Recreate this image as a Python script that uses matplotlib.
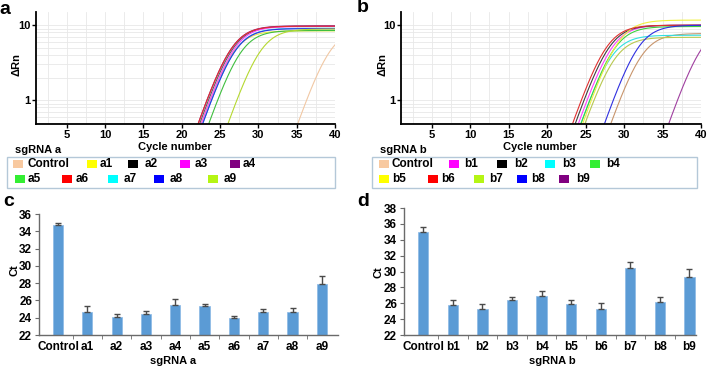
import numpy as np
import matplotlib.pyplot as plt
from matplotlib import ticker
from matplotlib.patches import Rectangle

plt.rcParams['font.family'] = ['Liberation Sans', 'DejaVu Sans']
plt.rcParams['font.weight'] = 'bold'
plt.rcParams['axes.labelweight'] = 'bold'
plt.rcParams['font.size'] = 8

# ---- data ----
samples_a = ['Control', 'a1', 'a2', 'a3', 'a4', 'a5', 'a6', 'a7', 'a8', 'a9']
samples_b = ['Control', 'b1', 'b2', 'b3', 'b4', 'b5', 'b6', 'b7', 'b8', 'b9']

colors_a = ['#f8c9a0', '#ffff00', '#000000', '#ff00ff', '#800080',
            '#33ee33', '#ff0000', '#00ffff', '#0000ff', '#b5f514']
colors_b = ['#f8c9a0', '#ff00ff', '#000000', '#00ffff', '#33ee33',
            '#ffff00', '#ff0000', '#b5f514', '#0000ff', '#800080']
line_colors_a = ['#f1c8a4', '#e8e84a', '#606060', '#ff40ff', '#902090',
                 '#3fbf3f', '#e03030', '#30e0e0', '#3030e0', '#b5d830']
line_colors_b = ['#c8956c', '#ff40ff', '#404040', '#30e0e0', '#40d040',
                 '#f0f040', '#e03030', '#b8c850', '#3030e0', '#a040a0']

# amplification curves: cycle where dRn crosses 1, and plateau dRn
cross1_a = [36.3, 23.7, 23.5, 23.7, 23.3, 24.7, 23.3, 23.9, 23.9, 27.2]
plateau_a = [9.0, 8.4, 9.7, 9.6, 9.8, 8.5, 9.7, 9.1, 9.0, 8.9]
cross1_b = [29.45, 25.2, 24.8, 25.55, 25.55, 25.75, 24.45, 26.1, 28.6, 36.95]
plateau_b = [7.75, 10.0, 10.0, 7.35, 9.6, 11.7, 10.0, 6.9, 10.0, 10.0]
growth = 0.68  # per cycle, common to all wells

# Ct bars (mean, upper error)
ct_a = [34.75, 24.65, 24.05, 24.4, 25.5, 25.4, 23.95, 24.7, 24.65, 27.85]
err_a = [0.2, 0.75, 0.35, 0.4, 0.7, 0.2, 0.3, 0.35, 0.5, 0.95]
ct_b = [34.95, 25.75, 25.25, 26.4, 26.95, 25.9, 25.25, 30.45, 26.15, 29.35]
err_b = [0.7, 0.7, 0.7, 0.45, 0.55, 0.45, 0.8, 0.8, 0.7, 0.95]

W, H = 708, 369
fig = plt.figure(figsize=(W / 100, H / 100), dpi=100)


def px_axes(l, t, r, b):
    return fig.add_axes([l / W, 1 - b / H, (r - l) / W, (b - t) / H])


def ftext(x, y, s, **kw):
    fig.text(x / W, 1 - y / H, s, **kw)


def amp_panel(ax, cross1, plateau, lcolors):
    cyc = np.linspace(1, 40, 400)
    for c1, p, col in zip(cross1, plateau, lcolors):
        x0 = c1 + np.log(p - 1) / growth
        ax.plot(cyc, p / (1 + np.exp(-growth * (cyc - x0))), color=col, lw=0.8)
    ax.set_yscale('log')
    ax.set_xlim(1, 40)
    ax.set_ylim(0.48, 15)
    ax.set_xticks(range(5, 41, 5))
    ax.set_yticks([1, 10])
    ax.set_yticklabels(['1', '10'])
    ax.xaxis.set_minor_locator(ticker.MultipleLocator(2.5))
    ax.yaxis.set_minor_locator(ticker.LogLocator(subs=np.arange(2, 10)))
    ax.yaxis.set_minor_formatter(ticker.NullFormatter())
    ax.grid(which='both', color='#e8e8e8', lw=0.6)
    ax.set_axisbelow(True)
    for s in ['top', 'right']:
        ax.spines[s].set_visible(False)
    for s in ['left', 'bottom']:
        ax.spines[s].set_linewidth(1.3)
    ax.tick_params(which='major', length=3, width=1, labelsize=8, pad=1)
    ax.tick_params(which='minor', length=0)


def legend_box(box, labels, colors, patch_x, text_x):
    l, t, r, b = box
    fig.add_artist(Rectangle((l / W, 1 - b / H), (r - l) / W, (b - t) / H,
                             transform=fig.transFigure, fill=False,
                             ec='#b4c8d8', lw=1))
    for i, (lab, col) in enumerate(zip(labels, colors)):
        y = 164.3 if i < 5 else 179.3
        fig.add_artist(Rectangle((patch_x[i] / W, 1 - (y + 4) / H), 10 / W, 8 / H,
                                 transform=fig.transFigure, color=col, lw=0))
        ftext(text_x[i], y, lab, va='center', ha='left', fontsize=8.5)


def bar_panel(ax, labels, vals, errs, ymax, xmax):
    x = np.arange(len(labels))
    ax.bar(x, vals, width=0.35, color='#5b9bd5', edgecolor='#8ab8e6', lw=0.5)
    ax.errorbar(x, vals, yerr=[np.zeros(len(errs)), errs], fmt='none',
                ecolor='#4a4a4a', elinewidth=1, capsize=2, capthick=1)
    ax.set_ylim(22, ymax)
    ax.set_xlim(-0.65, xmax)
    ax.set_yticks(range(22, ymax + 1, 2))
    ax.set_xticks(x)
    ax.set_xticklabels(labels)
    ax.set_xticks(x[:-1] + 0.5, minor=True)
    for s in ['top', 'right']:
        ax.spines[s].set_visible(False)
    for s in ['left', 'bottom']:
        ax.spines[s].set_color('#6a6a6a')
        ax.spines[s].set_linewidth(1)
    ax.tick_params(axis='x', which='major', length=0, pad=4, labelsize=8.5)
    ax.tick_params(axis='x', which='minor', length=3, color='#6a6a6a')
    ax.tick_params(axis='y', length=3, color='#6a6a6a', labelsize=8.5, pad=2)


# panel a / b : amplification plots
ax_a = px_axes(36, 12, 335, 124)
amp_panel(ax_a, cross1_a, plateau_a, line_colors_a)
ax_b = px_axes(401, 12, 701, 124)
amp_panel(ax_b, cross1_b, plateau_b, line_colors_b)

ftext(17, 64, 'ΔRn', rotation=90, ha='center', va='center')
ftext(382, 64, 'ΔRn', rotation=90, ha='center', va='center')
ftext(175, 147, 'Cycle number', ha='center', va='center')
ftext(540, 147, 'Cycle number', ha='center', va='center')
ftext(15, 150, 'sgRNA a', ha='left', va='center')
ftext(380, 150, 'sgRNA b', ha='left', va='center')

legend_box((7, 157, 335, 188), samples_a, colors_a,
           [13, 87, 128, 180, 230, 15, 62, 108, 154, 208],
           [27, 100, 145, 195, 243, 28, 76, 124, 170, 224])
legend_box((372, 157, 697, 188), samples_b, colors_b,
           [379, 449, 497, 545, 590, 379, 428, 474, 517, 559],
           [392, 464, 514, 562, 606, 392, 441, 489, 531, 576])

# panel c / d : Ct bars
ax_c = px_axes(39, 214, 338, 335)
bar_panel(ax_c, samples_a, ct_a, err_a, 36, 9.55)
ax_d = px_axes(404, 208, 696, 335)
bar_panel(ax_d, samples_b, ct_b, err_b, 38, 9.22)
ftext(15, 270, 'Ct', rotation=90, ha='center', va='center')
ftext(379, 272, 'Ct', rotation=90, ha='center', va='center')
ftext(173, 361.5, 'sgRNA a', ha='center', va='center')
ftext(552, 361.5, 'sgRNA b', ha='center', va='center')

for lab, (x, y) in zip('abcd', [(5, 9), (363, 8), (9, 201), (363, 201)]):
    ftext(x, y, lab, ha='center', va='center', fontsize=14)

fig.savefig('out.png', dpi=100)
